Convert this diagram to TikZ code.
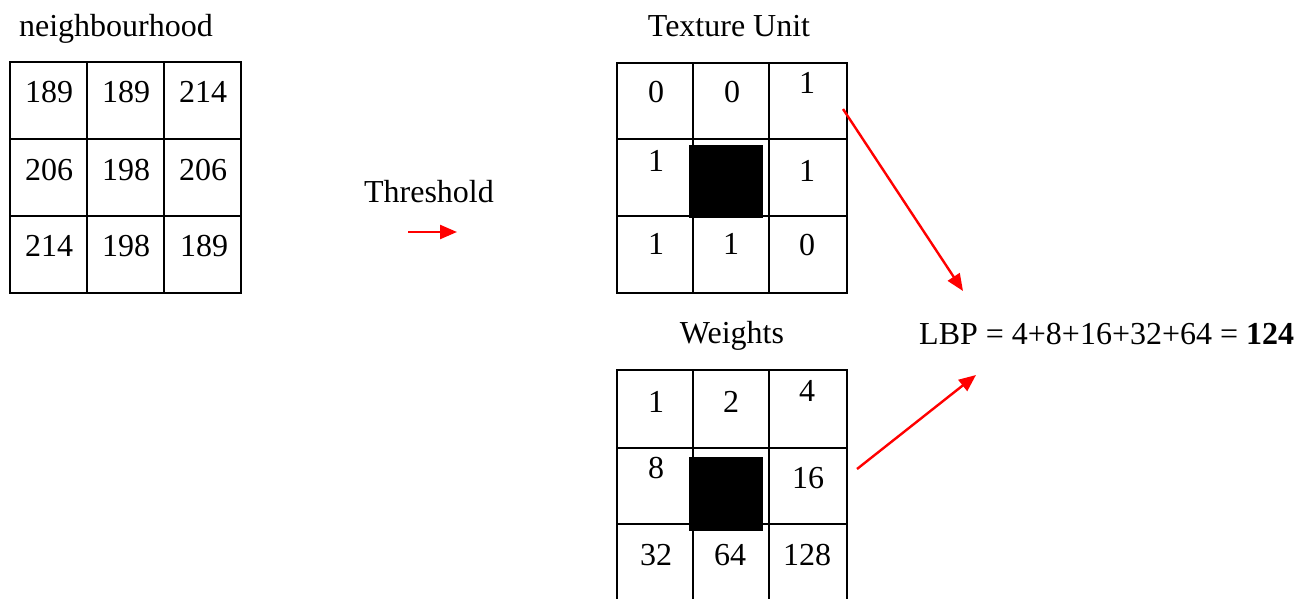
\documentclass[tikz,border=0pt]{standalone}
\usepackage{fontspec}
\setmainfont{Liberation Serif}
\usetikzlibrary{arrows.meta}
\begin{document}
\begin{tikzpicture}[x=1pt,y=-1pt,
  gridline/.style={line width=2pt,black},
  num/.style={inner sep=0pt,font=\fontsize{32}{38}\selectfont},
  lbl/.style={inner sep=0pt,anchor=base,font=\fontsize{32}{38}\selectfont},
  redarrow/.style={red,line width=2.4pt,-{Triangle[length=17pt,width=14pt]}},
  centre/.style={fill=black,draw=none}]
\useasboundingbox (0,0) rectangle (1313,599);
% neighbourhood grid
\node[lbl] (tn) at (116,37) {neighbourhood};
\draw[gridline] (10,62) rectangle (241,293);
\draw[gridline] (87,62) -- (87,293) (164,62) -- (164,293) (10,139) -- (241,139) (10,216) -- (241,216);
\node[num] (n11) at (49,92) {189};
\node[num] (n12) at (126,92) {189};
\node[num] (n13) at (203,92) {214};
\node[num] (n21) at (49,170) {206};
\node[num] (n22) at (126,170) {198};
\node[num] (n23) at (203,170) {206};
\node[num] (n31) at (49,246) {214};
\node[num] (n32) at (126,246) {198};
\node[num] (n33) at (204,246) {189};
% threshold
\node[lbl] (th) at (429,202) {Threshold};
\coordinate (ta) at (408,232);
\coordinate (tb) at (457,232);
\draw[redarrow] (ta) -- (tb);
% texture unit grid
\node[lbl] (tu) at (729,37) {Texture Unit};
\draw[gridline] (617,63) rectangle (847,293);
\draw[gridline] (693,63) -- (693,293) (769,63) -- (769,293) (617,139) -- (847,139) (617,216) -- (847,216);
\node[centre] (tc) at (726,181.5) [minimum width=74pt,minimum height=73pt,inner sep=0pt] {};
\node[num] (t11) at (656,92) {0};
\node[num] (t12) at (732,92) {0};
\node[num] (t13) at (807,83) {1};
\node[num] (t21) at (656,161) {1};
\node[num] (t23) at (807,171) {1};
\node[num] (t31) at (656,244) {1};
\node[num] (t32) at (731,244) {1};
\node[num] (t33) at (807,245) {0};
% weights grid
\node[lbl] (wl) at (732,343) {Weights};
\draw[gridline] (617,599) -- (617,370) -- (847,370) -- (847,599);
\draw[gridline] (693,370) -- (693,599) (769,370) -- (769,599) (617,448) -- (847,448) (617,524) -- (847,524);
\node[centre] (wc) at (726,494) [minimum width=74pt,minimum height=74pt,inner sep=0pt] {};
\node[num] (w11) at (656,402) {1};
\node[num] (w12) at (731,402) {2};
\node[num] (w13) at (807,391) {4};
\node[num] (w21) at (656,468) {8};
\node[num] (w23) at (808,478) {16};
\node[num] (w31) at (656,555) {32};
\node[num] (w32) at (730,555) {64};
\node[num] (w33) at (807,555) {128};
% LBP
\node[lbl,anchor=base west] (lbp) at (919,344) {LBP = 4+8+16+32+64 = \textbf{124}};
\coordinate (a1s) at (843,109);
\coordinate (a1e) at (963,291);
\coordinate (a2s) at (857,469);
\coordinate (a2e) at (976,375);
\draw[redarrow] (a1s) -- (a1e);
\draw[redarrow] (a2s) -- (a2e);
\end{tikzpicture}
\end{document}
